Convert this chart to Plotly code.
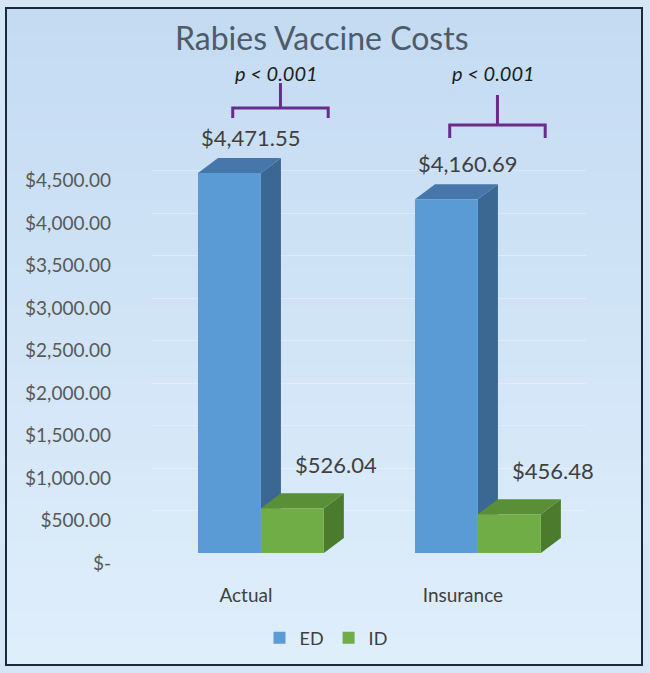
import plotly.graph_objects as go

# ---------------- data ----------------
categories = ["Actual", "Insurance"]
series_names = ["ED", "ID"]
ed_values = [4471.55, 4160.69]
id_values = [526.04, 456.48]
y_tick_values = [0, 500, 1000, 1500, 2000, 2500, 3000, 3500, 4000, 4500]
y_tick_labels = ["$-", "$500.00", "$1,000.00", "$1,500.00", "$2,000.00",
                 "$2,500.00", "$3,000.00", "$3,500.00", "$4,000.00", "$4,500.00"]
p_labels = ["p < 0.001", "p < 0.001"]

# ---------------- layout geometry ----------------
W, H = 650, 673
L, R, T, B = 152, 64, 60, 120
PW, PH = W - L - R, H - T - B
X_RANGE = [-0.502, 1.498]
Y_RANGE = [0, 5800]
XU = PW / (X_RANGE[1] - X_RANGE[0])      # px per x unit
YU = PH / (Y_RANGE[1] - Y_RANGE[0])      # px per y unit

def paper_x(px):
    return (px - L) / PW

def paper_y(py):
    return (H - B - py) / PH

BAR_W = 0.29
DX = 20 / XU          # depth offset, x units
DY = 15 / YU          # depth offset, y units

ED_FRONT, ED_TOP, ED_SIDE = "#5b9bd5", "#4777aa", "#3b6893"
ID_FRONT, ID_TOP, ID_SIDE = "#70ad47", "#5a8e37", "#4b7b2d"
xs = list(range(len(categories)))

fig = go.Figure()
fig.add_trace(go.Bar(x=xs, y=ed_values, name=series_names[0], width=BAR_W,
                     offset=-BAR_W, marker=dict(color=ED_FRONT, line=dict(width=0)),
                     hoverinfo="y"))
fig.add_trace(go.Bar(x=xs, y=id_values, name=series_names[1], width=BAR_W,
                     offset=0, marker=dict(color=ID_FRONT, line=dict(width=0)),
                     hoverinfo="y"))

shapes = []

# gradient background inside frame
top_c = (196, 219, 242)
bot_c = (223, 238, 251)
N = 48
y_top_px, y_bot_px = 8, 665
for i in range(N):
    t = i / (N - 1)
    c = tuple(round(top_c[k] + (bot_c[k] - top_c[k]) * t) for k in range(3))
    y0 = y_top_px + (y_bot_px - y_top_px) * i / N
    y1 = y_top_px + (y_bot_px - y_top_px) * (i + 1) / N + 0.6
    shapes.append(dict(type="rect", xref="paper", yref="paper",
                       x0=paper_x(6), x1=paper_x(642), y0=paper_y(y1), y1=paper_y(y0),
                       fillcolor="rgb(%d,%d,%d)" % c, line=dict(width=0), layer="below"))

# 3D faces derived from data
def faces(x0, v, top_col, side_col):
    x1 = x0 + BAR_W
    top = "M %f,%f L %f,%f L %f,%f L %f,%f Z" % (x0, v, x1, v, x1 + DX, v + DY, x0 + DX, v + DY)
    side = "M %f,%f L %f,%f L %f,%f L %f,%f Z" % (x1, 0, x1, v, x1 + DX, v + DY, x1 + DX, DY)
    return [dict(type="path", xref="x", yref="y", path=side, fillcolor=side_col,
                 line=dict(width=0), layer="between"),
            dict(type="path", xref="x", yref="y", path=top, fillcolor=top_col,
                 line=dict(width=0), layer="between")]

for i, x in enumerate(xs):
    shapes += faces(x - BAR_W, ed_values[i], ED_TOP, ED_SIDE)
for i, x in enumerate(xs):
    shapes += faces(x, id_values[i], ID_TOP, ID_SIDE)

# significance brackets
bracket_y = [(5235, 5118, 5529), (5035, 4882, 5388)]   # bar, ends, stem top
PURPLE = "#6a2b8e"
for i, x in enumerate(xs):
    yh, ye, yt = bracket_y[i]
    bx0, bx1, bs = x - 0.13, x + 0.31, x + 0.09
    shapes.append(dict(type="path", xref="x", yref="y",
                       path="M %f,%f L %f,%f L %f,%f L %f,%f" % (bx0, ye, bx0, yh, bx1, yh, bx1, ye),
                       line=dict(color=PURPLE, width=3), layer="above"))
    shapes.append(dict(type="line", xref="x", yref="y", x0=bs, x1=bs, y0=yh, y1=yt,
                       line=dict(color=PURPLE, width=3), layer="above"))

# frame border
shapes.append(dict(type="rect", xref="paper", yref="paper",
                   x0=paper_x(6), x1=paper_x(642), y0=paper_y(665), y1=paper_y(8),
                   line=dict(color="#1b2a3a", width=2), fillcolor="rgba(0,0,0,0)", layer="above"))

annotations = []
FONT = "Lato, 'Open Sans', sans-serif"
for i, x in enumerate(xs):
    annotations.append(dict(x=x - 0.045, y=ed_values[i] + 420, xref="x", yref="y",
                            text="$%s" % format(ed_values[i], ",.2f"), showarrow=False,
                            font=dict(family=FONT, size=22, color="#404040")))
    annotations.append(dict(x=x + 0.345, y=id_values[i] + 510, xref="x", yref="y",
                            text="$%s" % format(id_values[i], ",.2f"), showarrow=False,
                            font=dict(family=FONT, size=22, color="#404040")))
    annotations.append(dict(x=x + 0.07, y=5650, xref="x", yref="y",
                            text="<i>%s</i>" % p_labels[i], showarrow=False,
                            font=dict(family=FONT, size=20, color="#1e1e1e")))

fig.update_layout(
    width=W, height=H,
    margin=dict(l=L, r=R, t=T, b=B),
    paper_bgcolor="#d5e7f7",
    plot_bgcolor="rgba(0,0,0,0)",
    barmode="overlay",
    font=dict(family=FONT),
    title=dict(text="Rabies Vaccine Costs", x=0.495, xanchor="center",
               y=1 - 39 / H, yanchor="middle", yref="container",
               font=dict(family=FONT, size=32, color="#4e5b68")),
    xaxis=dict(range=X_RANGE, tickvals=xs, ticktext=categories, showgrid=False,
               zeroline=False, showline=False, ticks="", ticklabelshift=-15,
               ticklabelstandoff=29, tickfont=dict(size=19, color="#404040"),
               fixedrange=True),
    yaxis=dict(range=Y_RANGE, tickvals=y_tick_values, ticktext=y_tick_labels,
               showgrid=True, gridcolor="rgba(255,255,255,0.3)", gridwidth=1,
               zeroline=False, showline=False, ticks="", ticklabelshift=10,
               ticklabelstandoff=40, tickfont=dict(size=19, color="#595959"),
               fixedrange=True),
    legend=dict(orientation="h", x=paper_x(326), y=paper_y(638), xanchor="center",
                yanchor="middle", bgcolor="rgba(0,0,0,0)", itemwidth=30,
                font=dict(size=18, color="#404040")),
    shapes=shapes,
    annotations=annotations,
    showlegend=True,
)

fig.write_html("out.html")
